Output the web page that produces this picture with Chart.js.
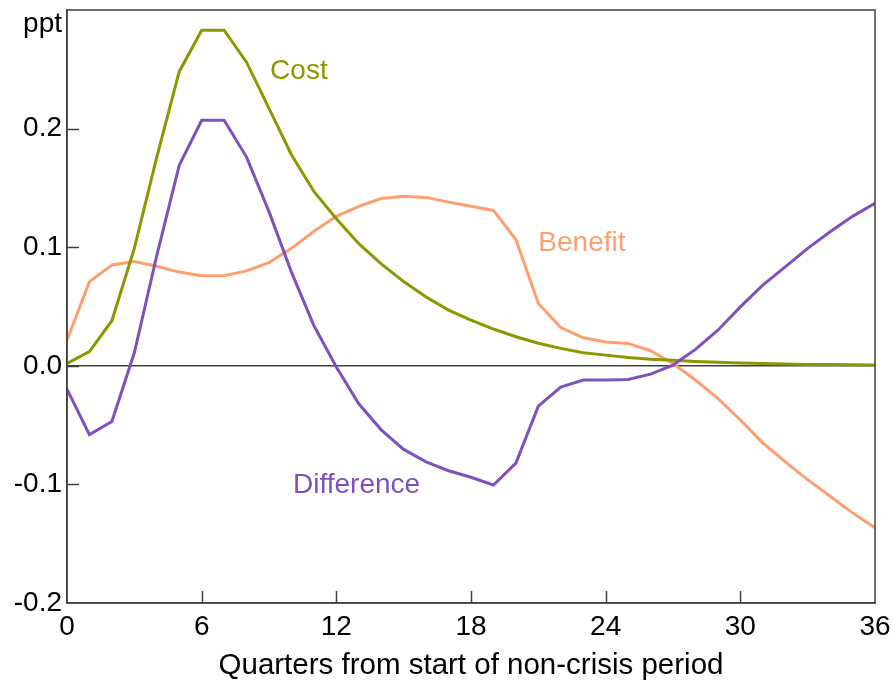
<!DOCTYPE html>
<html>
<head>
<meta charset="utf-8">
<script src="https://cdn.jsdelivr.net/npm/chart.js@4"></script>
<style>
  html, body { margin: 0; padding: 0; background: #ffffff; }
  #wrap { width: 895px; height: 684px; }
</style>
</head>
<body>
<div id="wrap"><canvas id="chart-canvas" width="895" height="684"></canvas></div>
<script>
// quarters from start of non-crisis period
const quarters = Array.from({ length: 37 }, (_, i) => i);

// ppt
const cost = [0.002, 0.012, 0.038, 0.099, 0.176, 0.248, 0.283, 0.283, 0.256, 0.217,
    0.178, 0.147, 0.124, 0.103, 0.086, 0.071, 0.058, 0.047, 0.0385, 0.031,
    0.0245, 0.019, 0.0147, 0.011, 0.009, 0.007, 0.0056, 0.0046, 0.0037, 0.003,
    0.0024, 0.0019, 0.0015, 0.0012, 0.001, 0.0008, 0.0006];
const benefit = [0.0216, 0.071, 0.085, 0.088, 0.084, 0.079, 0.076, 0.076, 0.080, 0.087,
    0.099, 0.1135, 0.126, 0.1345, 0.141, 0.143, 0.142, 0.138, 0.1345, 0.131,
    0.1065, 0.0526, 0.0323, 0.0236, 0.020, 0.0189, 0.0127, 0.002, -0.012, -0.0275,
    -0.0457, -0.065, -0.081, -0.096, -0.110, -0.124, -0.1365];
const difference = [-0.0197, -0.058, -0.047, 0.011, 0.093, 0.169, 0.207, 0.207, 0.176, 0.13,
    0.079, 0.034, -0.001, -0.032, -0.054, -0.0705, -0.081, -0.0885, -0.094, -0.1005,
    -0.082, -0.034, -0.018, -0.012, -0.012, -0.0115, -0.007, 0.0006, 0.0138, 0.030,
    0.0497, 0.068, 0.0834, 0.099, 0.113, 0.126, 0.137];

const xTicks = [0, 6, 12, 18, 24, 30, 36];
const yTicks = [-0.2, -0.1, 0.0, 0.1, 0.2, 0.3];

const COST = '#8c9800';
const BENEFIT = '#ff9f70';
const DIFF = '#8050be';
const AXIS = '#404040';
const FONT = "'Liberation Sans', Arial, sans-serif";

const toXY = arr => arr.map((v, i) => ({ x: quarters[i], y: v }));

// frame, inward tick marks, series labels and the unit label
const decorations = {
    id: 'decorations',
    afterDatasetsDraw(chart) {
        const { ctx, chartArea: a, scales: { x, y } } = chart;
        ctx.save();
        ctx.strokeStyle = AXIS;
        ctx.lineWidth = 1.5;
        ctx.strokeRect(a.left, a.top, a.right - a.left, a.bottom - a.top);

        ctx.beginPath();
        xTicks.slice(1, -1).forEach(t => {
            const px = Math.round(x.getPixelForValue(t)) + 0.5;
            ctx.moveTo(px, a.bottom);
            ctx.lineTo(px, a.bottom - 12);
        });
        yTicks.slice(1, -1).forEach(t => {
            const py = Math.round(y.getPixelForValue(t)) + 0.5;
            ctx.moveTo(a.left, py);
            ctx.lineTo(a.left + 12, py);
        });
        ctx.stroke();

        ctx.font = '28px ' + FONT;
        ctx.textAlign = 'left';
        ctx.textBaseline = 'alphabetic';
        [['Cost', 9.05, 0.2415, COST],
         ['Benefit', 21.0, 0.097, BENEFIT],
         ['Difference', 10.07, -0.1072, DIFF]].forEach(([txt, qx, vy, col]) => {
            ctx.fillStyle = col;
            ctx.fillText(txt, x.getPixelForValue(qx), y.getPixelForValue(vy));
        });

        ctx.fillStyle = '#000000';
        ctx.font = '28px ' + FONT;
        ctx.textAlign = 'right';
        ctx.textBaseline = 'middle';
        ctx.fillText('ppt', a.left - 5, a.top + 14);
        ctx.restore();
    }
};

const line = (label, data, color) => ({
    label: label,
    data: toXY(data),
    borderColor: color,
    backgroundColor: color,
    borderWidth: 3,
    pointRadius: 0,
    tension: 0,
    fill: false
});

new Chart(document.getElementById('chart-canvas'), {
    type: 'line',
    data: {
        datasets: [
            line('Difference', difference, DIFF),
            line('Cost', cost, COST),
            line('Benefit', benefit, BENEFIT)
        ]
    },
    options: {
        responsive: false,
        animation: false,
        devicePixelRatio: 1,
        layout: { padding: { top: 10, right: 20, left: 0, bottom: 0 } },
        plugins: {
            legend: { display: false },
            tooltip: { enabled: false }
        },
        scales: {
            x: {
                type: 'linear',
                min: 0,
                max: 36,
                afterBuildTicks: s => { s.ticks = xTicks.map(v => ({ value: v })); },
                ticks: {
                    color: '#000000',
                    font: { family: FONT, size: 28 },
                    padding: 7,
                    maxRotation: 0
                },
                grid: { display: false, drawTicks: false },
                border: { display: true, color: AXIS, width: 1.5 },
                title: {
                    display: true,
                    text: 'Quarters from start of non-crisis period',
                    color: '#000000',
                    font: { family: FONT, size: 29.5 },
                    padding: { top: 0, bottom: 0 }
                },
                afterFit: s => { s.height = 81; s.paddingLeft = 0; s.paddingRight = 0; }
            },
            y: {
                min: -0.2,
                max: 0.3,
                afterBuildTicks: s => { s.ticks = yTicks.map(v => ({ value: v })); },
                ticks: {
                    color: '#000000',
                    font: { family: FONT, size: 28 },
                    padding: 5,
                    callback: v => (v > 0.25 ? '' : v.toFixed(1))
                },
                grid: {
                    drawTicks: false,
                    lineWidth: 1.5,
                    color: c => (c.tick && Math.abs(c.tick.value) < 1e-9 ? AXIS : 'rgba(0,0,0,0)')
                },
                border: { display: true, color: AXIS, width: 1.5 },
                afterFit: s => { s.width = 67; s.paddingTop = 0; s.paddingBottom = 0; }
            }
        }
    },
    plugins: [decorations]
});
</script>
</body>
</html>
